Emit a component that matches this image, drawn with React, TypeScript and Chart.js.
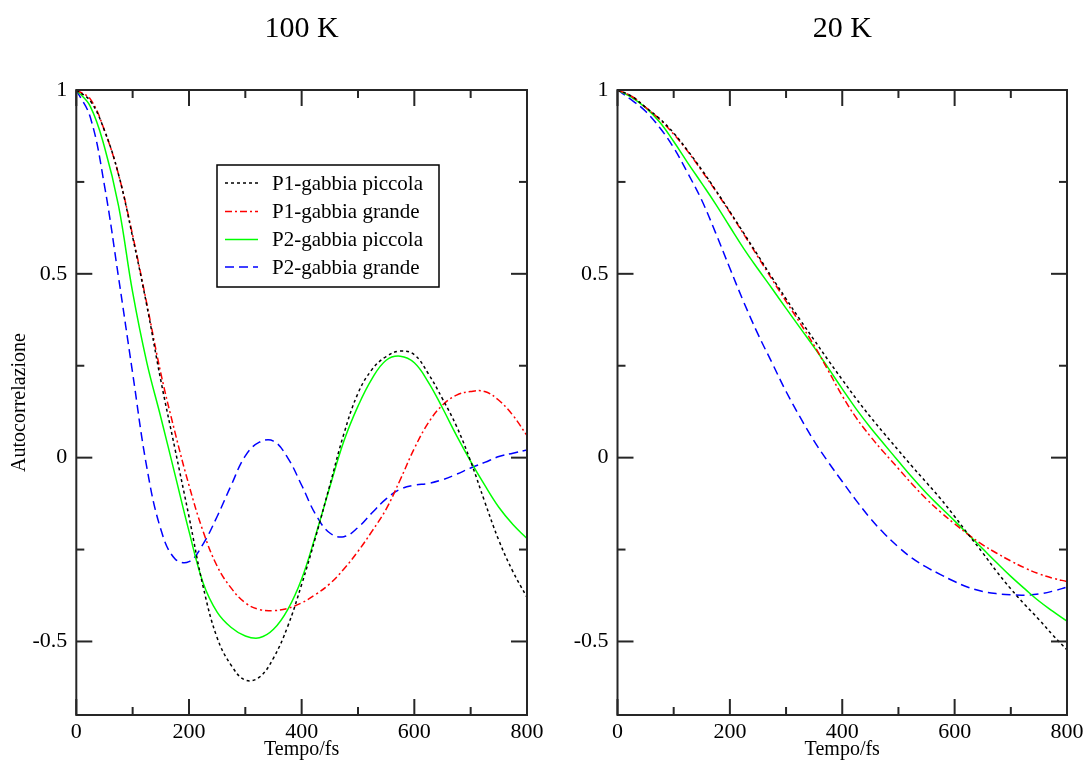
import React, { useEffect, useRef } from 'react';
import { Chart, registerables } from 'chart.js';
Chart.register(...registerables);

// ---------- DATA ----------
const TIME = [0, 25, 50, 75, 100, 125, 150, 175, 200, 225, 250, 275, 300, 325, 350, 375, 400, 425, 450, 475, 500, 525, 550, 575, 600, 625, 650, 675, 700, 725, 750, 775, 800];

const SERIES_LABELS = ['P1-gabbia piccola', 'P1-gabbia grande', 'P2-gabbia piccola', 'P2-gabbia grande'];

// 100 K panel
const K100_P1_PICCOLA = [1.0, 0.97, 0.89, 0.77, 0.6, 0.415, 0.21, 0.025, -0.16, -0.35, -0.49, -0.565, -0.605, -0.597, -0.545, -0.46, -0.345, -0.215, -0.075, 0.065, 0.175, 0.24, 0.275, 0.29, 0.28, 0.228, 0.16, 0.085, -0.01, -0.12, -0.225, -0.31, -0.38];
const K100_P1_GRANDE = [1.0, 0.975, 0.89, 0.77, 0.605, 0.42, 0.23, 0.07, -0.075, -0.2, -0.295, -0.355, -0.395, -0.413, -0.416, -0.41, -0.395, -0.372, -0.343, -0.303, -0.255, -0.2, -0.14, -0.06, 0.025, 0.095, 0.143, 0.17, 0.18, 0.18, 0.156, 0.115, 0.06];
const K100_P2_PICCOLA = [1.0, 0.955, 0.845, 0.685, 0.45, 0.26, 0.11, -0.045, -0.2, -0.34, -0.42, -0.462, -0.485, -0.49, -0.467, -0.414, -0.33, -0.21, -0.08, 0.045, 0.14, 0.215, 0.265, 0.276, 0.258, 0.205, 0.135, 0.06, -0.01, -0.075, -0.135, -0.182, -0.22];
const K100_P2_GRANDE = [1.0, 0.925, 0.74, 0.49, 0.23, -0.025, -0.195, -0.275, -0.283, -0.235, -0.16, -0.075, 0.005, 0.042, 0.045, 0.0, -0.075, -0.155, -0.205, -0.215, -0.19, -0.15, -0.112, -0.086, -0.075, -0.07, -0.06, -0.045, -0.028, -0.013, 0.003, 0.012, 0.021];

// 20 K panel
const K20_P1_PICCOLA = [1.0, 0.983, 0.953, 0.922, 0.883, 0.835, 0.783, 0.727, 0.669, 0.61, 0.55, 0.49, 0.432, 0.375, 0.32, 0.265, 0.212, 0.16, 0.111, 0.065, 0.02, -0.025, -0.068, -0.112, -0.16, -0.21, -0.259, -0.31, -0.357, -0.4, -0.44, -0.483, -0.523];
const K20_P1_GRANDE = [1.0, 0.983, 0.953, 0.92, 0.88, 0.833, 0.78, 0.725, 0.667, 0.607, 0.546, 0.485, 0.425, 0.366, 0.305, 0.237, 0.168, 0.108, 0.058, 0.013, -0.03, -0.073, -0.113, -0.148, -0.18, -0.21, -0.237, -0.26, -0.281, -0.3, -0.316, -0.328, -0.337];
const K20_P2_PICCOLA = [1.0, 0.98, 0.952, 0.913, 0.86, 0.802, 0.746, 0.689, 0.628, 0.568, 0.513, 0.46, 0.406, 0.353, 0.3, 0.244, 0.187, 0.132, 0.082, 0.036, -0.01, -0.055, -0.097, -0.135, -0.172, -0.21, -0.248, -0.286, -0.323, -0.357, -0.39, -0.418, -0.445];
const K20_P2_GRANDE = [1.0, 0.973, 0.942, 0.898, 0.843, 0.774, 0.7, 0.61, 0.515, 0.422, 0.336, 0.258, 0.18, 0.11, 0.045, -0.012, -0.065, -0.117, -0.165, -0.207, -0.243, -0.274, -0.298, -0.318, -0.337, -0.353, -0.364, -0.37, -0.373, -0.374, -0.371, -0.363, -0.352];

const X_MAJOR = [0, 200, 400, 600, 800];
const X_MINOR = [100, 300, 500, 700];
const Y_MAJOR = [-0.5, 0, 0.5, 1];
const Y_MINOR = [-0.25, 0.25, 0.75];

// ---------- STYLE ----------
const COLORS = ['#000000', '#ff0000', '#00ff00', '#0000ff'];
const DASHES: number[][] = [[3, 3], [7, 3, 2, 3], [], [9, 5]];
const SERIF = '"Liberation Serif", "DejaVu Serif", serif';

function makePlugin(title: string, showLegend: boolean) {
  return {
    id: 'xmgrFrame',
    afterDatasetsDraw(chart: any) {
      const { ctx, chartArea: a, scales } = chart;
      const xs = scales.x;
      const ys = scales.y;
      ctx.save();
      ctx.strokeStyle = '#262626';
      ctx.lineWidth = 2;
      ctx.setLineDash([]);
      ctx.strokeRect(a.left, a.top, a.right - a.left, a.bottom - a.top);
      const tick = (x1: number, y1: number, x2: number, y2: number) => {
        ctx.beginPath();
        ctx.moveTo(x1, y1);
        ctx.lineTo(x2, y2);
        ctx.stroke();
      };
      X_MAJOR.forEach((v) => {
        const px = xs.getPixelForValue(v);
        tick(px, a.bottom, px, a.bottom - 16);
        tick(px, a.top, px, a.top + 16);
      });
      X_MINOR.forEach((v) => {
        const px = xs.getPixelForValue(v);
        tick(px, a.bottom, px, a.bottom - 8);
        tick(px, a.top, px, a.top + 8);
      });
      Y_MAJOR.forEach((v) => {
        const py = ys.getPixelForValue(v);
        tick(a.left, py, a.left + 16, py);
        tick(a.right, py, a.right - 16, py);
      });
      Y_MINOR.forEach((v) => {
        const py = ys.getPixelForValue(v);
        tick(a.left, py, a.left + 8, py);
        tick(a.right, py, a.right - 8, py);
      });

      // Title
      ctx.fillStyle = '#000';
      ctx.font = `30px ${SERIF}`;
      ctx.textAlign = 'center';
      ctx.textBaseline = 'middle';
      ctx.fillText(title, (a.left + a.right) / 2, 29);

      if (showLegend) {
        const bx = 217, by = 165, bw = 222, bh = 122;
        ctx.fillStyle = '#fff';
        ctx.fillRect(bx, by, bw, bh);
        ctx.strokeStyle = '#000';
        ctx.lineWidth = 1.5;
        ctx.strokeRect(bx, by, bw, bh);
        const rows = [183, 211.5, 239.5, 267];
        ctx.font = `21px ${SERIF}`;
        ctx.textAlign = 'left';
        ctx.textBaseline = 'middle';
        SERIES_LABELS.forEach((lab, i) => {
          ctx.strokeStyle = COLORS[i];
          ctx.lineWidth = 1.5;
          ctx.setLineDash(DASHES[i]);
          ctx.beginPath();
          ctx.moveTo(225, rows[i]);
          ctx.lineTo(258, rows[i]);
          ctx.stroke();
          ctx.setLineDash([]);
          ctx.fillStyle = '#000';
          ctx.fillText(lab, 272, rows[i] + 1);
        });
      }
      ctx.restore();
    },
  };
}

function makeConfig(series: number[][], title: string, yWidth: number, padRight: number, showLegend: boolean, showYTitle: boolean): any {
  return {
    type: 'line',
    data: {
      datasets: series.map((vals, i) => ({
        label: SERIES_LABELS[i],
        data: TIME.map((t, k) => ({ x: t, y: vals[k] })),
        borderColor: COLORS[i],
        borderDash: DASHES[i],
        borderWidth: 1.5,
        pointRadius: 0,
        tension: 0.4,
        fill: false,
      })),
    },
    options: {
      responsive: false,
      animation: false,
      devicePixelRatio: 1,
      layout: { padding: { top: 90, right: padRight, left: 0, bottom: 0 } },
      plugins: { legend: { display: false }, tooltip: { enabled: false }, title: { display: false } },
      scales: {
        x: {
          type: 'linear',
          min: 0,
          max: 800,
          grid: { display: false, drawTicks: false },
          border: { display: false },
          afterBuildTicks: (s: any) => { s.ticks = X_MAJOR.map((v) => ({ value: v })); },
          afterFit: (s: any) => { s.height = 50; s.paddingLeft = 0; s.paddingRight = 0; },
          ticks: { color: '#000', font: { family: SERIF, size: 22 }, padding: 4, maxRotation: 0, callback: (v: any) => String(v) },
          title: { display: true, text: 'Tempo/fs', color: '#000', font: { family: SERIF, size: 20 }, padding: { top: 0, bottom: 3 } },
        },
        y: {
          type: 'linear',
          min: -0.7,
          max: 1,
          grid: { display: false, drawTicks: false },
          border: { display: false },
          afterBuildTicks: (s: any) => { s.ticks = Y_MAJOR.map((v) => ({ value: v })); },
          afterFit: (s: any) => { s.width = yWidth; s.paddingTop = 0; s.paddingBottom = 0; },
          ticks: { color: '#000', font: { family: SERIF, size: 22 }, padding: 9, callback: (v: any) => String(v) },
          title: { display: showYTitle, text: 'Autocorrelazione', color: '#000', font: { family: SERIF, size: 20 }, padding: { top: 8, bottom: 0 } },
        },
      },
    },
    plugins: [makePlugin(title, showLegend)],
  };
}

function Panel(props: { left: number; width: number; config: () => any }) {
  const ref = useRef<HTMLCanvasElement | null>(null);
  useEffect(() => {
    if (!ref.current) return;
    const chart = new Chart(ref.current, props.config());
    return () => chart.destroy();
  }, []);
  return (
    <canvas
      ref={ref}
      width={props.width}
      height={765}
      style={{ position: 'absolute', left: props.left, top: 0, width: props.width, height: 765 }}
    />
  );
}

export default function App() {
  return (
    <div style={{ position: 'fixed', left: 0, top: 0, width: 1084, height: 765, background: '#fff' }}>
      <Panel
        left={0}
        width={545}
        config={() => makeConfig([K100_P1_PICCOLA, K100_P1_GRANDE, K100_P2_PICCOLA, K100_P2_GRANDE], '100 K', 76.3, 18, true, true)}
      />
      <Panel
        left={545}
        width={539}
        config={() => makeConfig([K20_P1_PICCOLA, K20_P1_GRANDE, K20_P2_PICCOLA, K20_P2_GRANDE], '20 K', 72.5, 17, false, false)}
      />
    </div>
  );
}
